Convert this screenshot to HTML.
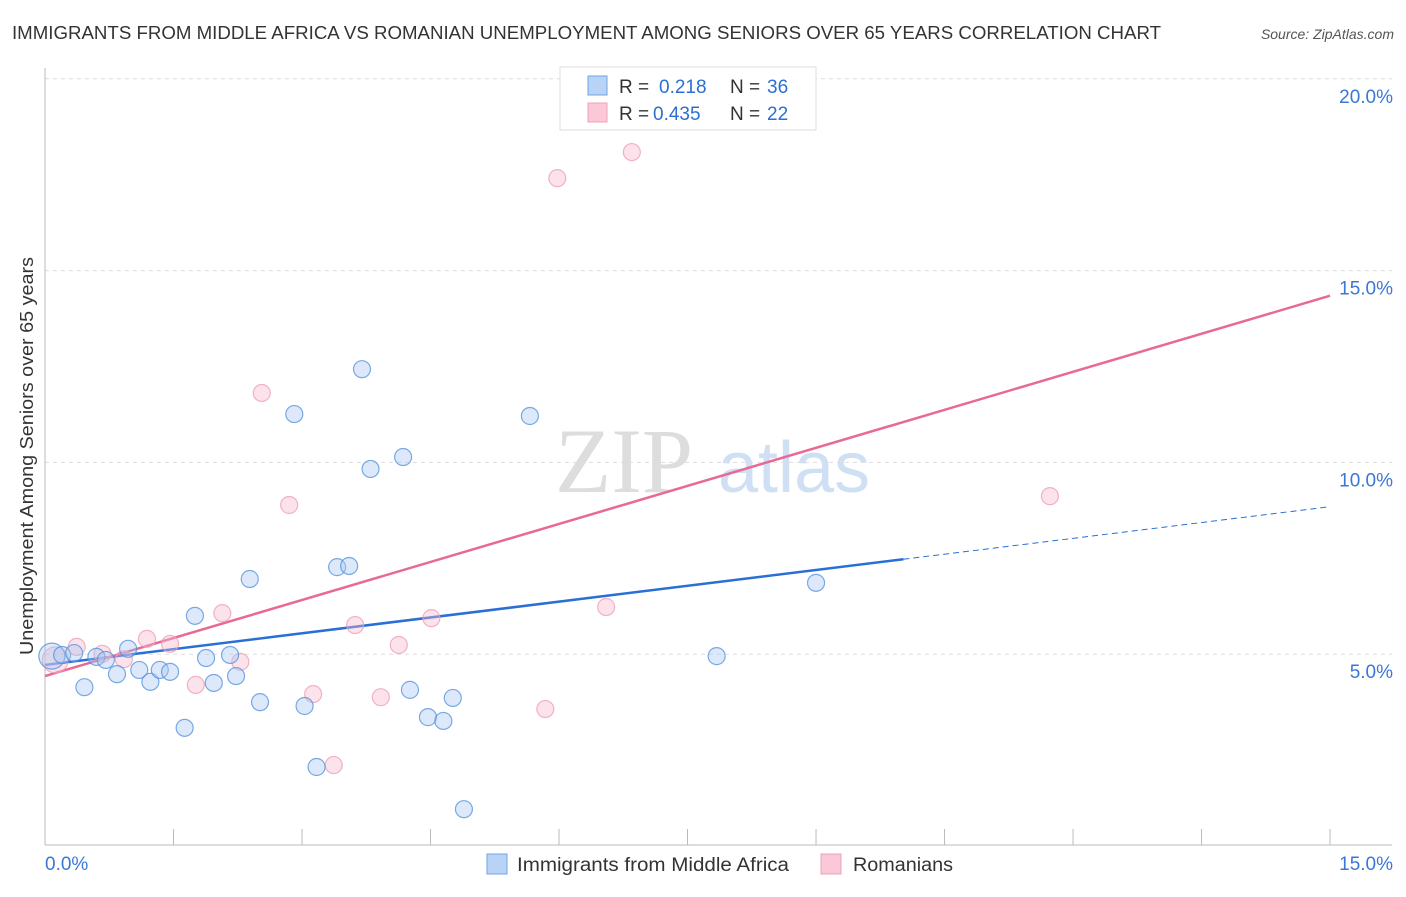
<!DOCTYPE html>
<html><head><meta charset="utf-8"><style>
body{margin:0;background:#fff;font-family:"Liberation Sans",sans-serif}
</style></head><body>
<svg id="chart" width="1406" height="892" xmlns="http://www.w3.org/2000/svg" font-family="Liberation Sans, sans-serif">
<text x="12" y="39" font-size="18" fill="#333" textLength="1149" lengthAdjust="spacingAndGlyphs">IMMIGRANTS FROM MIDDLE AFRICA VS ROMANIAN UNEMPLOYMENT AMONG SENIORS OVER 65 YEARS CORRELATION CHART</text>
<text x="1394" y="39" font-size="14" fill="#555" text-anchor="end" font-style="italic">Source: ZipAtlas.com</text>
<text transform="translate(33,456) rotate(-90)" font-size="18" fill="#333" text-anchor="middle" textLength="398" lengthAdjust="spacingAndGlyphs">Unemployment Among Seniors over 65 years</text>
<g><text x="555" y="492" font-size="92" fill="#ddd" font-family="Liberation Serif, serif">ZIP</text><text x="718" y="492" font-size="72" fill="#cfe0f5">atlas</text></g>
<g id="grid"></g><g id="axes"></g><g id="trends"></g><g id="pts"></g>
<g>
<rect x="560" y="67" width="256" height="63" fill="#fff" stroke="#ddd"/>
<rect x="588" y="76" width="19" height="19" fill="#b8d3f5" stroke="#6fa3e0"/>
<rect x="588" y="103" width="19" height="19" fill="#fbc8d7" stroke="#f0a0b8"/>
<text x="619" y="93" font-size="19" fill="#333">R = <tspan fill="#2c6fd1" x="659">0.218</tspan><tspan fill="#333" x="730">N = </tspan><tspan fill="#2c6fd1" x="767">36</tspan></text>
<text x="619" y="120" font-size="19" fill="#333">R = <tspan fill="#2c6fd1" x="653">0.435</tspan><tspan fill="#333" x="730">N = </tspan><tspan fill="#2c6fd1" x="767">22</tspan></text>
</g>
<g>
<rect x="487" y="854" width="20" height="20" fill="#b8d3f5" stroke="#6fa3e0"/>
<text x="517" y="871" font-size="19" fill="#333" textLength="272" lengthAdjust="spacingAndGlyphs">Immigrants from Middle Africa</text>
<rect x="821" y="854" width="20" height="20" fill="#fbc8d7" stroke="#f0a0b8"/>
<text x="853" y="871" font-size="19" fill="#333" textLength="100" lengthAdjust="spacingAndGlyphs">Romanians</text>
</g>
</svg>
<script>
const blueX=[0.08,0.20,0.34,0.46,0.60,0.71,0.84,0.97,1.10,1.23,1.34,1.46,1.63,1.75,1.88,1.97,2.16,2.23,2.39,2.51,2.91,3.03,3.17,3.41,3.55,3.70,3.80,4.18,4.26,4.47,4.65,4.76,4.89,5.66,7.84,9.00];
const blueY=[4.95,4.98,5.03,4.14,4.93,4.85,4.48,5.14,4.59,4.28,4.59,4.54,3.08,6.00,4.90,4.25,4.98,4.43,6.96,3.75,11.26,3.65,2.06,7.27,7.30,12.43,9.83,10.14,4.07,3.36,3.26,3.86,0.96,11.21,4.95,6.86];
const pinkX=[0.12,0.37,0.67,0.92,1.19,1.46,1.76,2.07,2.28,2.53,2.85,3.13,3.37,3.62,3.92,4.13,4.51,5.84,5.98,6.55,6.85,11.73];
const pinkY=[4.85,5.19,5.01,4.87,5.40,5.27,4.20,6.07,4.80,11.81,8.89,3.96,2.11,5.76,3.88,5.24,5.94,3.57,17.41,6.23,18.09,9.12];
const blueTrend=[4.72,0.275]; // intercept, slope
const pinkTrend=[4.43,0.661];
const yTicks=[5,10,15,20];
const xTickVals=[0,1.5,3,4.5,6,7.5,9,10.5,12,13.5,15];
const NS="http://www.w3.org/2000/svg";
const sx=v=>45+v*85.67, sy=v=>846-v*38.36;
function mk(p,tag,a){const e=document.createElementNS(NS,tag);for(const k in a)e.setAttribute(k,a[k]);p.appendChild(e);return e;}
const grid=document.getElementById('grid'),axes=document.getElementById('axes'),tr=document.getElementById('trends'),pts=document.getElementById('pts');
yTicks.forEach(t=>{
 const l=mk(grid,'line',{x1:45,x2:1392,y1:sy(t),y2:sy(t),stroke:'#ddd','stroke-dasharray':'4,4'});
 
 
 const tx=mk(axes,'text',{x:1393,y:sy(t)+24,'font-size':19,fill:'#3a78d4','text-anchor':'end'});tx.textContent=t.toFixed(1)+'%';
 
 
});
mk(axes,'line',{x1:45,x2:45,y1:68,y2:845,stroke:'#bbb'});
mk(axes,'line',{x1:45,x2:1392,y1:845,y2:845,stroke:'#bbb'});
xTickVals.forEach(t=>{const l=mk(axes,'line',{x1:sx(t),x2:sx(t),y1:829,y2:845,stroke:'#bbb'});
 
 });
[[0,'start',45],[15,'end',1393]].forEach(([v,a,x])=>{const t=mk(axes,'text',{x:x,y:870,'font-size':19,fill:'#3a78d4','text-anchor':a});t.textContent=v.toFixed(1)+'%';
 
 });
function draw(X,Y,fill,stroke,name){X.forEach((x,i)=>{const r=i<1?13:8.5;
 const c=mk(pts,'circle',{cx:sx(x),cy:sy(Y[i]),r:r,fill:fill,'fill-opacity':0.4,stroke:stroke,'stroke-opacity':0.75,'stroke-width':1.2});
 
 });}
draw(pinkX,pinkY,'#f8b8cc','#ee9bb5','romanian-point');
draw(blueX,blueY,'#a9c9f2','#4f8fdc','middle-africa-point');
const bEnd=10.02;
let l=mk(tr,'line',{x1:sx(0),y1:sy(blueTrend[0]),x2:sx(bEnd),y2:sy(blueTrend[0]+blueTrend[1]*bEnd),stroke:'#2a6fd6','stroke-width':2.5});


l=mk(tr,'line',{x1:sx(bEnd),y1:sy(blueTrend[0]+blueTrend[1]*bEnd),x2:sx(15),y2:sy(blueTrend[0]+blueTrend[1]*15),stroke:'#2a6fd6','stroke-width':1,'stroke-dasharray':'6,4'});


l=mk(tr,'line',{x1:sx(0),y1:sy(pinkTrend[0]),x2:sx(15),y2:sy(pinkTrend[0]+pinkTrend[1]*15),stroke:'#e86a94','stroke-width':2.5});


</script>
</body></html>
